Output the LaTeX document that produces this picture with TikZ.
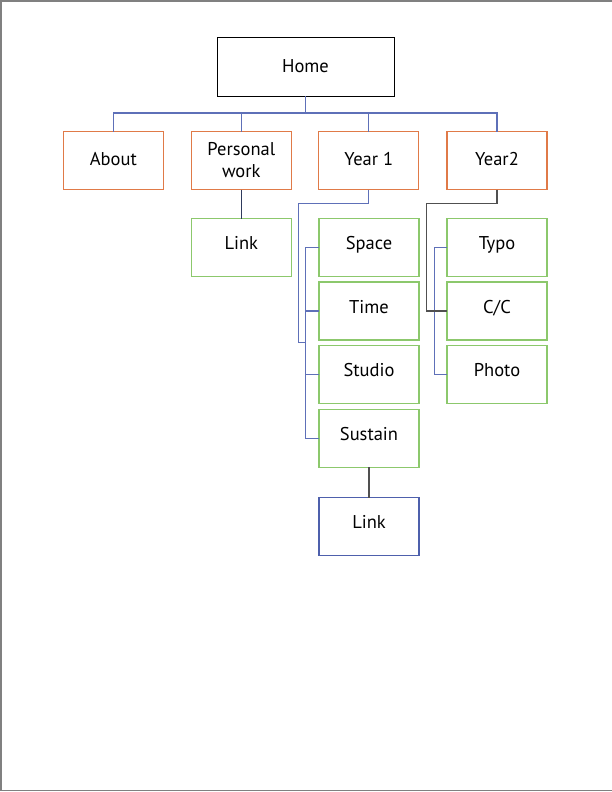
\documentclass[tikz,border=0pt]{standalone}
\usepackage{fontspec}
\setmainfont{PT Sans}
\definecolor{orangeb}{HTML}{E07A48}
\definecolor{greenb}{HTML}{8CC86C}
\definecolor{blueb}{HTML}{4E60AC}
\definecolor{busc}{HTML}{5E70B8}
\definecolor{navyc}{HTML}{2E3A5C}
\definecolor{grayc}{HTML}{505050}
\definecolor{framec}{HTML}{808080}
\tikzset{
  box/.style={draw, line width=1.2pt, minimum width=100pt, minimum height=58pt,
    inner sep=0pt, outer sep=0pt, font=\fontsize{18.5}{22}\selectfont, align=center},
  homebox/.style={box, draw=black, line width=1pt, minimum width=177pt, text height=14pt, text depth=4pt},
  topbox/.style={box, draw=orangeb, text height=13pt, text depth=4pt},
  childbox/.style={box, draw=greenb, text height=8pt, text depth=4pt},
  linkbox/.style={box, draw=blueb, text height=7pt, text depth=4pt},
  bus/.style={draw=busc, line width=1.1pt},
  navyline/.style={draw=navyc, line width=1.2pt},
  grayline/.style={draw=grayc, line width=1.3pt},
}
\begin{document}
\begin{tikzpicture}[x=1pt,y=-1pt]
\useasboundingbox (0,0) rectangle (612,792);
\draw[framec, line width=1.6pt] (612,0.8) -- (1,0.8) -- (1,790.5) -- (612,790.5);

\node[homebox] (home) at (305.5,67) {Home};
\node[topbox] (about) at (113.3,160.5) {About};
\node[box, draw=orangeb] (pers) at (241.3,160.5) {Personal\\work};
\node[topbox] (y1) at (368.8,160.5) {Year 1};
\node[topbox] (y2) at (497,160.5) {Year2};

\node[childbox] (link1) at (241.3,247.5) {Link};
\node[childbox] (space) at (369,247.2) {Space};
\node[childbox] (time) at (369,311) {Time};
\node[childbox] (studio) at (369,374.5) {Studio};
\node[childbox] (sustain) at (369,438.2) {Sustain};
\node[childbox] (typo) at (497,247.2) {Typo};
\node[childbox] (cc) at (497,311) {C/C};
\node[childbox] (photo) at (497,374.5) {Photo};
\node[linkbox] (link2) at (369,526.5) {Link};

% bus under Home
\coordinate (bus) at (305.5,113);
\draw[bus] (home.south) -- (bus);
\draw[bus] (about.north) |- (bus);
\draw[bus] (pers.north) |- (bus);
\draw[bus] (y1.north) |- (bus);
\draw[bus] (y2.north) |- (bus);

% Personal work -> Link
\draw[navyline] (pers.south) -- (link1.north);

% Year 1 branch
\coordinate (y1turn) at (298.3,203.3);
\coordinate (y1low) at (298.3,342.7);
\coordinate (y1join) at (305,342.7);
\draw[bus] (y1.south) |- (y1turn) -- (y1low) -- (y1join);
\draw[bus] (space.west) -- ++(-13.7,0) |- (sustain.west);
\draw[bus] (time.west) -- ++(-13.7,0);
\draw[bus] (studio.west) -- ++(-13.7,0);

% Year2 branch
\draw[bus] (typo.west) -- ++(-12.7,0) |- (photo.west);
\coordinate (y2turn) at (426.7,203.3);
\draw[grayline] (y2.south) |- (y2turn) |- (cc.west);

% Sustain -> Link
\draw[grayline] (sustain.south) -- (link2.north);
\end{tikzpicture}
\end{document}
